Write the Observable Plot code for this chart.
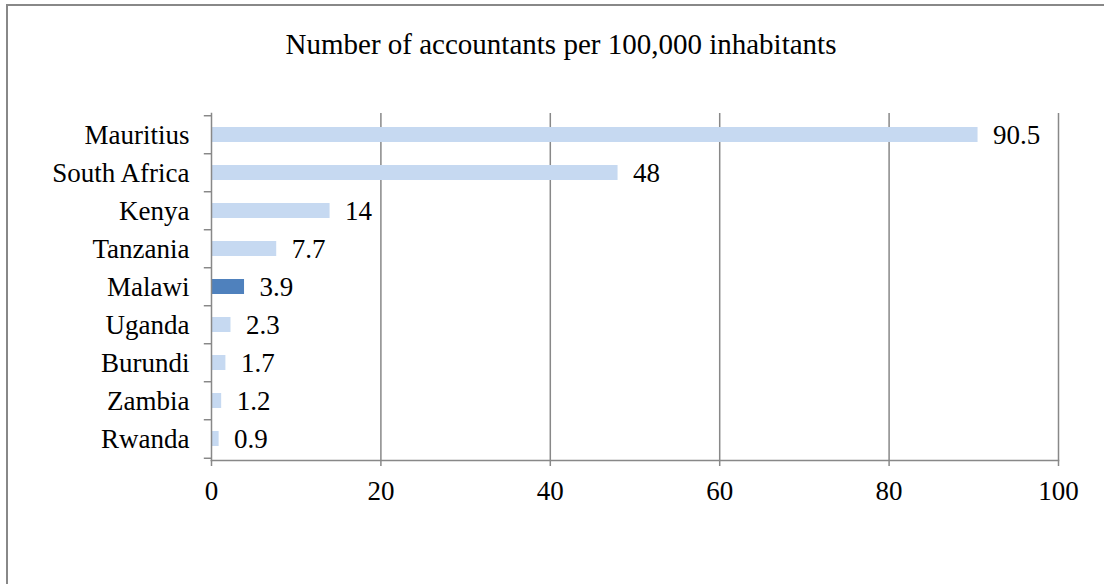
<!DOCTYPE html>
<html>
<head>
<meta charset="utf-8">
<script src="https://cdn.jsdelivr.net/npm/d3@7"></script>
<script src="https://cdn.jsdelivr.net/npm/@observablehq/plot@0.6"></script>
<style>
  html, body { margin: 0; padding: 0; background: #fff; }
  #wrap { position: relative; width: 1104px; height: 584px; overflow: hidden; }
  #border { position: absolute; left: 6px; top: 4px; width: 1120px; height: 600px; border: 2px solid #888; box-sizing: border-box; }
  #title { position: absolute; left: 0; top: 27px; width: 1122px; text-align: center; font-family: "Liberation Serif", "Times New Roman", serif; font-size: 29px; line-height: 34px; color: #000; }
  #chart { position: absolute; left: 0; top: 0; }
</style>
</head>
<body>
<div id="wrap">
  <div id="border"></div>
  <div id="title">Number of accountants per 100,000 inhabitants</div>
  <div id="chart"></div>
</div>
<script>
const countries = ["Mauritius", "South Africa", "Kenya", "Tanzania", "Malawi", "Uganda", "Burundi", "Zambia", "Rwanda"];
const values = [90.5, 48, 14, 7.7, 3.9, 2.3, 1.7, 1.2, 0.9];
const highlight = "Malawi";
const xTicks = [0, 20, 40, 60, 80, 100];

const data = countries.map((c, i) => ({country: c, value: values[i]}));

const marginTop = 113, marginBottom = 124, height = 584;
const step = (height - marginTop - marginBottom) / countries.length;
const font = "'Liberation Serif', 'Times New Roman', serif";
const fs = 27;

const chart = Plot.plot({
  width: 1104,
  height,
  marginLeft: 211,
  marginRight: 46,
  marginTop,
  marginBottom,
  style: {fontFamily: font, fontSize: fs + "px", color: "#000", background: "transparent"},
  x: {domain: [0, 100], ticks: xTicks, label: null},
  y: {domain: countries, paddingInner: 0.6, paddingOuter: 0.3, label: null},
  marks: [
    Plot.ruleX(xTicks.slice(1), {stroke: "#888", strokeWidth: 1.5, strokeOpacity: 1}),
    Plot.barX(data, {y: "country", x: "value", fill: d => d.country === highlight ? "#4f81bd" : "#c6d9f1"}),
    Plot.text(data, {y: "country", x: "value", text: d => String(d.value), textAnchor: "start", dx: 15, fill: "#000", fontSize: fs}),
    Plot.frame({anchor: "left", stroke: "#888", strokeWidth: 1.5}),
    Plot.frame({anchor: "bottom", stroke: "#888", strokeWidth: 1.5}),
    Plot.ruleY(countries, {y: d => d, x1: -0.85, x2: 0, dy: -step / 2, stroke: "#888", strokeWidth: 1.5}),
    Plot.ruleY([countries[countries.length - 1]], {y: d => d, x1: -0.85, x2: 0, dy: step / 2, stroke: "#888", strokeWidth: 1.5}),
    Plot.axisX({ticks: xTicks, tickSize: 6, tickPadding: 14, stroke: "#888", strokeWidth: 1.5, fill: "#000", fontSize: fs, label: null}),
    Plot.axisY({tickSize: 0, tickPadding: 22, fill: "#000", fontSize: fs, label: null})
  ]
});
document.getElementById("chart").appendChild(chart);
</script>
</body>
</html>
